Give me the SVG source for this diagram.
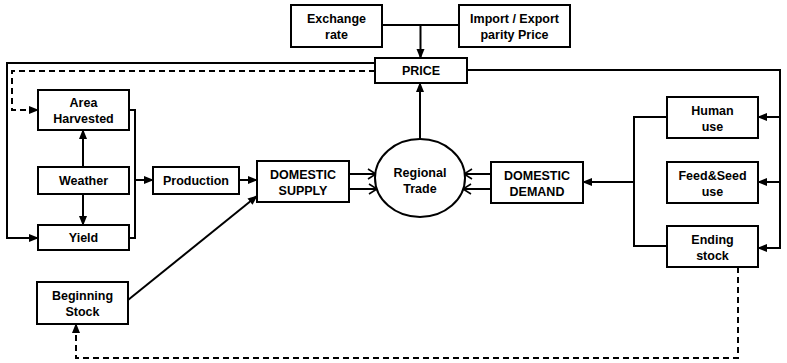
<svg xmlns="http://www.w3.org/2000/svg" width="787" height="363" viewBox="0 0 787 363">
<defs>
<style>
.box{fill:#fff;stroke:#000;stroke-width:2}
.t{font-family:"Liberation Sans",Arial,sans-serif;font-weight:bold;font-size:12.5px;text-anchor:middle;fill:#000}
.c{fill:none;stroke:#000;stroke-width:2}
.d{fill:none;stroke:#000;stroke-width:2;stroke-dasharray:6,4}
</style>
<marker id="ah" markerWidth="10" markerHeight="10" refX="9" refY="5" orient="auto" markerUnits="userSpaceOnUse">
<path d="M0,1 L10,5 L0,9 Z" fill="#000"/>
</marker>
<marker id="ov" markerWidth="10" markerHeight="12" refX="9" refY="6" orient="auto" markerUnits="userSpaceOnUse">
<path d="M1,1 L9,6 L1,11" fill="none" stroke="#000" stroke-width="1.6"/>
</marker>
</defs>
<rect width="787" height="363" fill="#fff"/>
<g id="connectors">
<path class="c" d="M382,25 H459"/>
<path class="c" d="M420.5,25 V58" marker-end="url(#ah)"/>
<path class="c" d="M375,63 H7 V238 H38" marker-end="url(#ah)"/>
<path class="d" d="M375,71 H12 V110 H38" marker-end="url(#ah)"/>
<path class="c" d="M467,70 H780 V248 H758" marker-end="url(#ah)"/>
<path class="c" d="M780,117 H758" marker-end="url(#ah)"/>
<path class="c" d="M780,182 H758" marker-end="url(#ah)"/>
<path class="c" d="M83,167 V130" marker-end="url(#ah)"/>
<path class="c" d="M83,194 V225" marker-end="url(#ah)"/>
<path class="c" d="M129,110 H135 V238 H129"/>
<path class="c" d="M135,180 H153" marker-end="url(#ah)"/>
<path class="c" d="M239,180 H257" marker-end="url(#ah)"/>
<path class="c" d="M128,300 L257,196" marker-end="url(#ah)"/>
<path class="c" d="M349,174 H376" marker-end="url(#ov)"/>
<path class="c" d="M349,189 H377" marker-end="url(#ov)"/>
<path class="c" d="M420,139 V83" marker-end="url(#ah)"/>
<path class="c" d="M491,174 H464" marker-end="url(#ov)"/>
<path class="c" d="M491,189 H463" marker-end="url(#ov)"/>
<path class="c" d="M667,117 H634 V246 H667"/>
<path class="c" d="M634,182 H583" marker-end="url(#ah)"/>
<path class="d" d="M738,267 V358 H76 V324" marker-end="url(#ah)"/>
</g>
<g id="exchange"><rect class="box" x="291" y="5" width="91" height="42"/><text class="t" x="336.5" y="23">Exchange</text><text class="t" x="336.5" y="39">rate</text></g>
<g id="parity"><rect class="box" x="459" y="5" width="111" height="42"/><text class="t" x="514.5" y="23">Import / Export</text><text class="t" x="514.5" y="39">parity Price</text></g>
<g id="price"><rect class="box" x="375" y="58" width="92" height="25"/><text class="t" x="421" y="75">PRICE</text></g>
<g id="area"><rect class="box" x="38" y="90" width="91" height="40"/><text class="t" x="83.5" y="107">Area</text><text class="t" x="83.5" y="123">Harvested</text></g>
<g id="weather"><rect class="box" x="38" y="167" width="91" height="27"/><text class="t" x="83.5" y="185">Weather</text></g>
<g id="yield"><rect class="box" x="38" y="225" width="91" height="25"/><text class="t" x="83.5" y="242">Yield</text></g>
<g id="production"><rect class="box" x="153" y="167" width="86" height="27"/><text class="t" x="196" y="185">Production</text></g>
<g id="supply"><rect class="box" x="257" y="161" width="92" height="41"/><text class="t" x="303" y="179">DOMESTIC</text><text class="t" x="303" y="195">SUPPLY</text></g>
<g id="trade"><ellipse class="box" cx="420" cy="178" rx="45" ry="39"/><text class="t" x="420" y="177">Regional</text><text class="t" x="420" y="193">Trade</text></g>
<g id="demand"><rect class="box" x="491" y="162" width="92" height="41"/><text class="t" x="537" y="180">DOMESTIC</text><text class="t" x="537" y="196">DEMAND</text></g>
<g id="human"><rect class="box" x="667" y="97" width="91" height="41"/><text class="t" x="712.5" y="115">Human</text><text class="t" x="712.5" y="131">use</text></g>
<g id="feed"><rect class="box" x="667" y="162" width="91" height="41"/><text class="t" x="712.5" y="180">Feed&amp;Seed</text><text class="t" x="712.5" y="196">use</text></g>
<g id="ending"><rect class="box" x="667" y="226" width="91" height="41"/><text class="t" x="712.5" y="244">Ending</text><text class="t" x="712.5" y="260">stock</text></g>
<g id="beginning"><rect class="box" x="37" y="282" width="91" height="42"/><text class="t" x="82.5" y="300">Beginning</text><text class="t" x="82.5" y="316">Stock</text></g>
</svg>
